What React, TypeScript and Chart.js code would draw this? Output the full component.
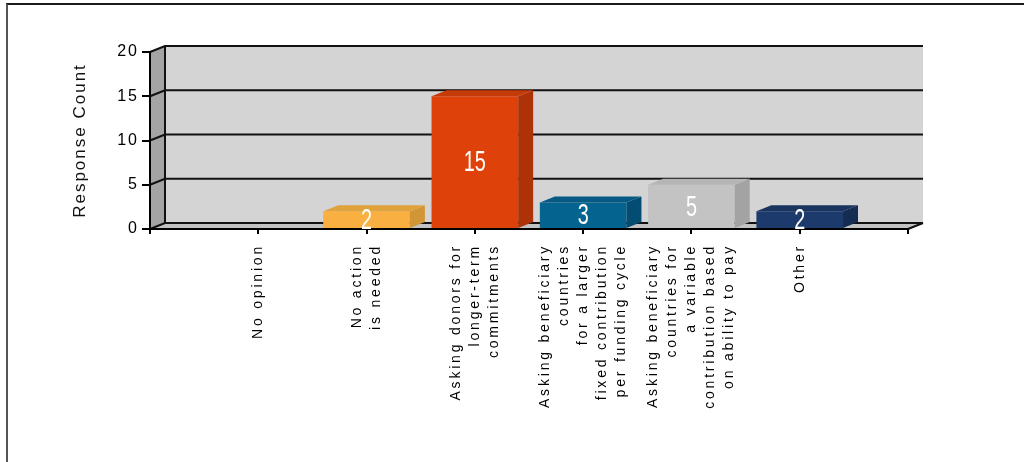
import React, { useEffect, useRef } from 'react';
import { Chart, registerables } from 'chart.js';

Chart.register(...registerables);

// ---- data ----
const categories: string[][] = [
  ['No opinion'],
  ['No action', 'is needed'],
  ['Asking donors for', 'longer-term', 'commitments'],
  ['Asking beneficiary', 'countries', 'for a larger', 'fixed contribution', 'per funding cycle'],
  ['Asking beneficiary', 'countries for', 'a variable', 'contribution based', 'on ability to pay'],
  ['Other'],
];
const responseCounts: number[] = [0, 2, 15, 3, 5, 2];
const frontColors: string[] = ['#F9B040', '#F9B040', '#DE410A', '#05638F', '#C3C3C3', '#1C3B6C'];
const topColors: string[] = ['#E0A23A', '#E0A23A', '#C53A09', '#065A84', '#B5B5B5', '#19345F'];
const sideColors: string[] = ['#D39636', '#D39636', '#AE3208', '#034D72', '#A3A3A3', '#142C52'];
const yTickValues: number[] = [0, 5, 10, 15, 20];
const axisTitle = 'Response Count';

const DX = 15;
const DY = -6;

const axisFont = '"Liberation Sans", Arial, sans-serif';

export default function App() {
  const canvasRef = useRef<HTMLCanvasElement | null>(null);

  useEffect(() => {
    const canvas = canvasRef.current;
    if (!canvas) return;

    const labels = ['', ...categories.map((c) => c.join(' ')), ''];
    const data = [null, ...responseCounts, null];
    const pad = (arr: string[]) => ['#000', ...arr, '#000'];

    const wallPlugin = {
      id: 'wall3d',
      beforeDraw(chart: any) {
        const { ctx, chartArea: a, scales } = chart;
        const yS = scales.y;
        const L = a.left, R = a.right, T = a.top, B = a.bottom;
        ctx.save();
        // back wall
        ctx.fillStyle = '#D4D4D4';
        ctx.fillRect(L + DX, T + DY, R - L, B - T);
        // left wall
        ctx.fillStyle = '#A4A4A4';
        ctx.beginPath();
        ctx.moveTo(L, T);
        ctx.lineTo(L + DX, T + DY);
        ctx.lineTo(L + DX, B + DY);
        ctx.lineTo(L, B);
        ctx.closePath();
        ctx.fill();
        // floor
        ctx.fillStyle = '#C2C2C2';
        ctx.beginPath();
        ctx.moveTo(L, B);
        ctx.lineTo(R, B);
        ctx.lineTo(R + DX, B + DY);
        ctx.lineTo(L + DX, B + DY);
        ctx.closePath();
        ctx.fill();
        // grid lines
        ctx.strokeStyle = '#111';
        ctx.lineWidth = 2;
        yTickValues.forEach((v) => {
          const py = yS.getPixelForValue(v);
          ctx.beginPath();
          ctx.moveTo(L, py);
          ctx.lineTo(L + DX, py + DY);
          ctx.lineTo(R + DX, py + DY);
          ctx.stroke();
        });
        // back wall left edge
        ctx.beginPath();
        ctx.moveTo(L + DX, T + DY);
        ctx.lineTo(L + DX, B + DY);
        ctx.stroke();
        // floor right edge
        ctx.beginPath();
        ctx.moveTo(R, B);
        ctx.lineTo(R + DX, B + DY);
        ctx.stroke();
        ctx.restore();
        // wide letter spacing for the axis texts drawn by the scales
        (ctx as any).letterSpacing = '2px';
      },
      afterDatasetsDraw(chart: any) {
        const { ctx } = chart;
        const meta = chart.getDatasetMeta(0);
        ctx.save();
        (ctx as any).letterSpacing = '0px';
        meta.data.forEach((el: any, idx: number) => {
          const i = idx - 1;
          if (i < 0 || i >= responseCounts.length) return;
          const v = responseCounts[i];
          if (!v) return;
          const { x, y, base, width } = el.getProps(['x', 'y', 'base', 'width'], true);
          const xl = x - width / 2;
          const xr = x + width / 2;
          // side
          ctx.fillStyle = sideColors[i];
          ctx.beginPath();
          ctx.moveTo(xr, y);
          ctx.lineTo(xr + DX, y + DY);
          ctx.lineTo(xr + DX, base + DY);
          ctx.lineTo(xr, base);
          ctx.closePath();
          ctx.fill();
          // top
          ctx.fillStyle = topColors[i];
          ctx.beginPath();
          ctx.moveTo(xl, y);
          ctx.lineTo(xr, y);
          ctx.lineTo(xr + DX, y + DY);
          ctx.lineTo(xl + DX, y + DY);
          ctx.closePath();
          ctx.fill();
          // value label
          ctx.save();
          ctx.translate(x, (y + base) / 2);
          ctx.scale(0.66, 1);
          ctx.fillStyle = '#FFFFFF';
          ctx.font = `30px ${axisFont}`;
          ctx.textAlign = 'center';
          ctx.textBaseline = 'middle';
          ctx.fillText(String(v), 0, 1);
          ctx.restore();
        });
        ctx.restore();
      },
      afterDraw(chart: any) {
        const { ctx, scales } = chart;
        const xS = scales.x;
        ctx.save();
        ctx.font = `14px ${axisFont}`;
        ctx.fillStyle = '#000';
        (ctx as any).letterSpacing = '2.8px';
        categories.forEach((lines, i) => {
          const px = xS.getPixelForValue(i + 1);
          const n = lines.length;
          lines.forEach((line, j) => {
            const cx = px + (j - (n - 1) / 2) * 19;
            ctx.save();
            ctx.translate(cx, 244);
            ctx.rotate(-Math.PI / 2);
            ctx.textAlign = 'right';
            ctx.textBaseline = 'middle';
            ctx.fillText(line, 0, 0);
            ctx.restore();
          });
        });
        ctx.restore();
      },
    };

    const chart = new Chart(canvas, {
      type: 'bar',
      data: {
        labels,
        datasets: [
          {
            data,
            backgroundColor: pad(frontColors),
            borderWidth: 0,
            categoryPercentage: 0.8,
            barPercentage: 1,
          } as any,
        ],
      },
      options: {
        responsive: false,
        animation: false,
        devicePixelRatio: 1,
        layout: { padding: { left: 66, top: 52, right: 1024 - 908, bottom: 0 } },
        plugins: { legend: { display: false }, tooltip: { enabled: false } },
        scales: {
          x: {
            type: 'category',
            offset: false,
            grid: {
              display: true,
              offset: false,
              drawOnChartArea: false,
              drawTicks: true,
              tickLength: 5,
              color: '#000',
              lineWidth: 2,
            },
            border: { display: true, color: '#000', width: 2 },
            ticks: { display: false },
            afterFit: (s: any) => {
              s.height = 462 - 229;
            },
          },
          y: {
            min: 0,
            max: 20,
            ticks: {
              stepSize: 5,
              font: { family: axisFont, size: 16 },
              color: '#000',
              padding: 3,
            },
            grid: {
              display: true,
              drawOnChartArea: false,
              drawTicks: true,
              tickLength: 8,
              color: '#000',
              lineWidth: 2,
            },
            border: { display: true, color: '#000', width: 2 },
            title: {
              display: true,
              text: axisTitle,
              font: { family: axisFont, size: 17 },
              color: '#111',
              padding: { top: 4, bottom: 4 },
            },
            afterFit: (s: any) => {
              s.width = 150 - 66;
            },
          },
        },
      } as any,
      plugins: [wallPlugin],
    });

    return () => {
      chart.destroy();
    };
  }, []);

  return (
    <div
      style={{
        position: 'fixed',
        left: 0,
        top: 0,
        width: 1024,
        height: 462,
        background: '#fff',
        overflow: 'hidden',
      }}
    >
      <canvas ref={canvasRef} width={1024} height={462} style={{ position: 'absolute', left: 0, top: 0 }} />
      <div
        style={{
          position: 'absolute',
          left: 6,
          top: 3,
          width: 1030,
          height: 470,
          borderTop: '2px solid #1a1a1a',
          borderLeft: '2px solid #555',
          pointerEvents: 'none',
        }}
      />
    </div>
  );
}
